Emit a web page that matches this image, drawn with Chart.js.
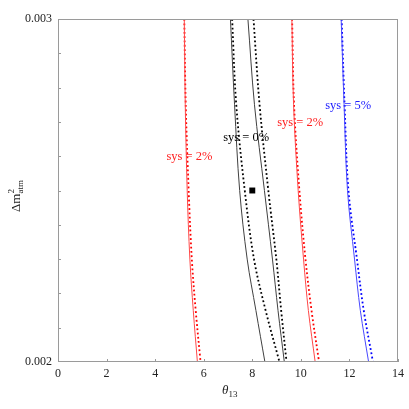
<!DOCTYPE html>
<html>
<head>
<meta charset="utf-8">
<script src="https://cdn.jsdelivr.net/npm/chart.js@4"></script>
<style>
html,body{margin:0;padding:0;background:#fff;}
#wrap{width:409px;height:409px;}
</style>
</head>
<body>
<div id="wrap"><canvas id="c" width="409" height="409"></canvas></div>
<script>
// ---- data ----
const yLevels = [0.003, 0.00275, 0.0025, 0.0023, 0.00215, 0.002];
const redLeftSolid     = [5.20, 5.24, 5.32, 5.43, 5.57, 5.74];
const redLeftDotted    = [5.20, 5.26, 5.38, 5.51, 5.67, 5.87];
const blackLeftSolid   = [7.10, 7.27, 7.48, 7.79, 8.15, 8.52];
const blackLeftDotted  = [7.17, 7.34, 7.69, 8.07, 8.55, 9.12];
const blackRightSolid  = [7.82, 8.09, 8.50, 8.83, 9.06, 9.32];
const blackRightDotted = [8.05, 8.30, 8.66, 8.99, 9.19, 9.41];
const redRightSolid    = [9.63, 9.70, 9.89, 10.11, 10.31, 10.59];
const redRightDotted   = [9.64, 9.72, 9.94, 10.19, 10.44, 10.75];
const blueSolid        = [11.66, 11.78, 11.92, 12.21, 12.45, 12.79];
const blueDotted       = [11.68, 11.80, 11.96, 12.31, 12.59, 12.97];
const bestFit = {x: 8, y: 0.0025};

const xTicks = [0, 2, 4, 6, 8, 10, 12, 14];
const yTickLabels = ['0.002', '', '0.003'];
const yMinorTicks = [0.0021, 0.0022, 0.0023, 0.0024, 0.0025, 0.0026, 0.0027, 0.0028, 0.0029];

const labelTexts = ['sys = 2%', 'sys = 0%', 'sys = 2%', 'sys = 5%'];
const labelX = [5.41, 7.75, 9.97, 11.95];
const labelY = [0.002598, 0.002654, 0.002699, 0.002747];
const labelColors = ['#ff2020', '#000000', '#ff2020', '#2020ff'];

// ---- build datasets ----
function pts(xs) { return xs.map((x, i) => ({x: x, y: yLevels[i]})); }
function solid(xs, color) {
  return {data: pts(xs), showLine: true, borderColor: color, borderWidth: 1,
          pointRadius: 0, tension: 0.35, fill: false};
}
function dotted(xs, color) {
  return {data: pts(xs), showLine: true, borderColor: color, borderWidth: 1.8,
          borderDash: [1.8, 2.5], pointRadius: 0, tension: 0.35, fill: false};
}

const datasets = [
  solid(redLeftSolid, '#ff4848'),
  solid(blackLeftSolid, '#404040'),
  solid(blackRightSolid, '#404040'),
  solid(redRightSolid, '#ff4848'),
  solid(blueSolid, '#4848ff'),
  dotted(redLeftDotted, '#ff0000'),
  dotted(blackLeftDotted, '#000000'),
  dotted(blackRightDotted, '#000000'),
  dotted(redRightDotted, '#ff0000'),
  dotted(blueDotted, '#0000ff'),
  {data: [bestFit], showLine: false, pointStyle: 'rect', pointRadius: 4.2,
   backgroundColor: '#000', borderColor: '#000', borderWidth: 0}
];

const SERIF = '"Liberation Serif", "DejaVu Serif", serif';

const decor = {
  id: 'decor',
  afterDatasetsDraw(chart) {
    const ctx = chart.ctx, a = chart.chartArea;
    const xs = chart.scales.x, ys = chart.scales.y;
    ctx.save();
    // frame
    ctx.strokeStyle = '#9a9a9a';
    ctx.lineWidth = 1;
    ctx.strokeRect(Math.round(a.left) + 0.5, Math.round(a.top) + 0.5,
                   Math.round(a.right - a.left) - 1, Math.round(a.bottom - a.top) - 1);
    // inward ticks
    ctx.beginPath();
    xTicks.forEach(v => {
      const px = Math.round(xs.getPixelForValue(v)) + 0.5;
      ctx.moveTo(px, a.bottom); ctx.lineTo(px, a.bottom - 3);
    });
    yMinorTicks.forEach(v => {
      const py = Math.round(ys.getPixelForValue(v)) + 0.5;
      ctx.moveTo(a.left, py); ctx.lineTo(a.left + 3, py);
    });
    ctx.stroke();
    // curve labels
    ctx.font = '12.5px ' + SERIF;
    ctx.textAlign = 'center';
    ctx.textBaseline = 'middle';
    labelTexts.forEach((t, i) => {
      ctx.fillStyle = labelColors[i];
      ctx.fillText(t, xs.getPixelForValue(labelX[i]), ys.getPixelForValue(labelY[i]));
    });
    // x title: theta_13
    ctx.fillStyle = '#222';
    ctx.textAlign = 'left';
    ctx.textBaseline = 'alphabetic';
    ctx.font = 'italic 13px ' + SERIF;
    const tx = 222, ty = 394;
    ctx.fillText('\u03B8', tx, ty);
    const tw = ctx.measureText('\u03B8').width;
    ctx.font = '9px ' + SERIF;
    ctx.fillText('13', tx + tw, ty + 3);
    // y title: Delta m^2_atm
    ctx.save();
    ctx.translate(20, 212);
    ctx.rotate(-Math.PI / 2);
    ctx.font = '13px ' + SERIF;
    ctx.fillText('\u0394m', 0, 0);
    const w1 = ctx.measureText('\u0394m').width;
    ctx.font = '9px ' + SERIF;
    ctx.fillText('2', w1, -6);
    ctx.fillText('atm', w1, 3);
    ctx.restore();
    ctx.restore();
  }
};

new Chart(document.getElementById('c'), {
  type: 'scatter',
  data: {datasets: datasets},
  options: {
    responsive: false,
    animation: false,
    events: [],
    layout: {padding: {top: 19, right: 7, left: 0, bottom: 0}},
    plugins: {legend: {display: false}, tooltip: {enabled: false}},
    scales: {
      x: {
        type: 'linear', min: 0, max: 14,
        afterFit(s) { s.height = 47; },
        grid: {display: false, drawTicks: false},
        border: {display: false},
        ticks: {stepSize: 2, padding: 5, color: '#222',
                font: {family: SERIF, size: 12},
                callback: v => String(v)}
      },
      y: {
        type: 'linear', min: 0.002, max: 0.003,
        afterFit(s) { s.width = 58; },
        grid: {display: false, drawTicks: false},
        border: {display: false},
        ticks: {stepSize: 0.0005, padding: 6, color: '#222',
                font: {family: SERIF, size: 12},
                callback: (v, i) => yTickLabels[i]}
      }
    }
  },
  plugins: [decor]
});
</script>
</body>
</html>
